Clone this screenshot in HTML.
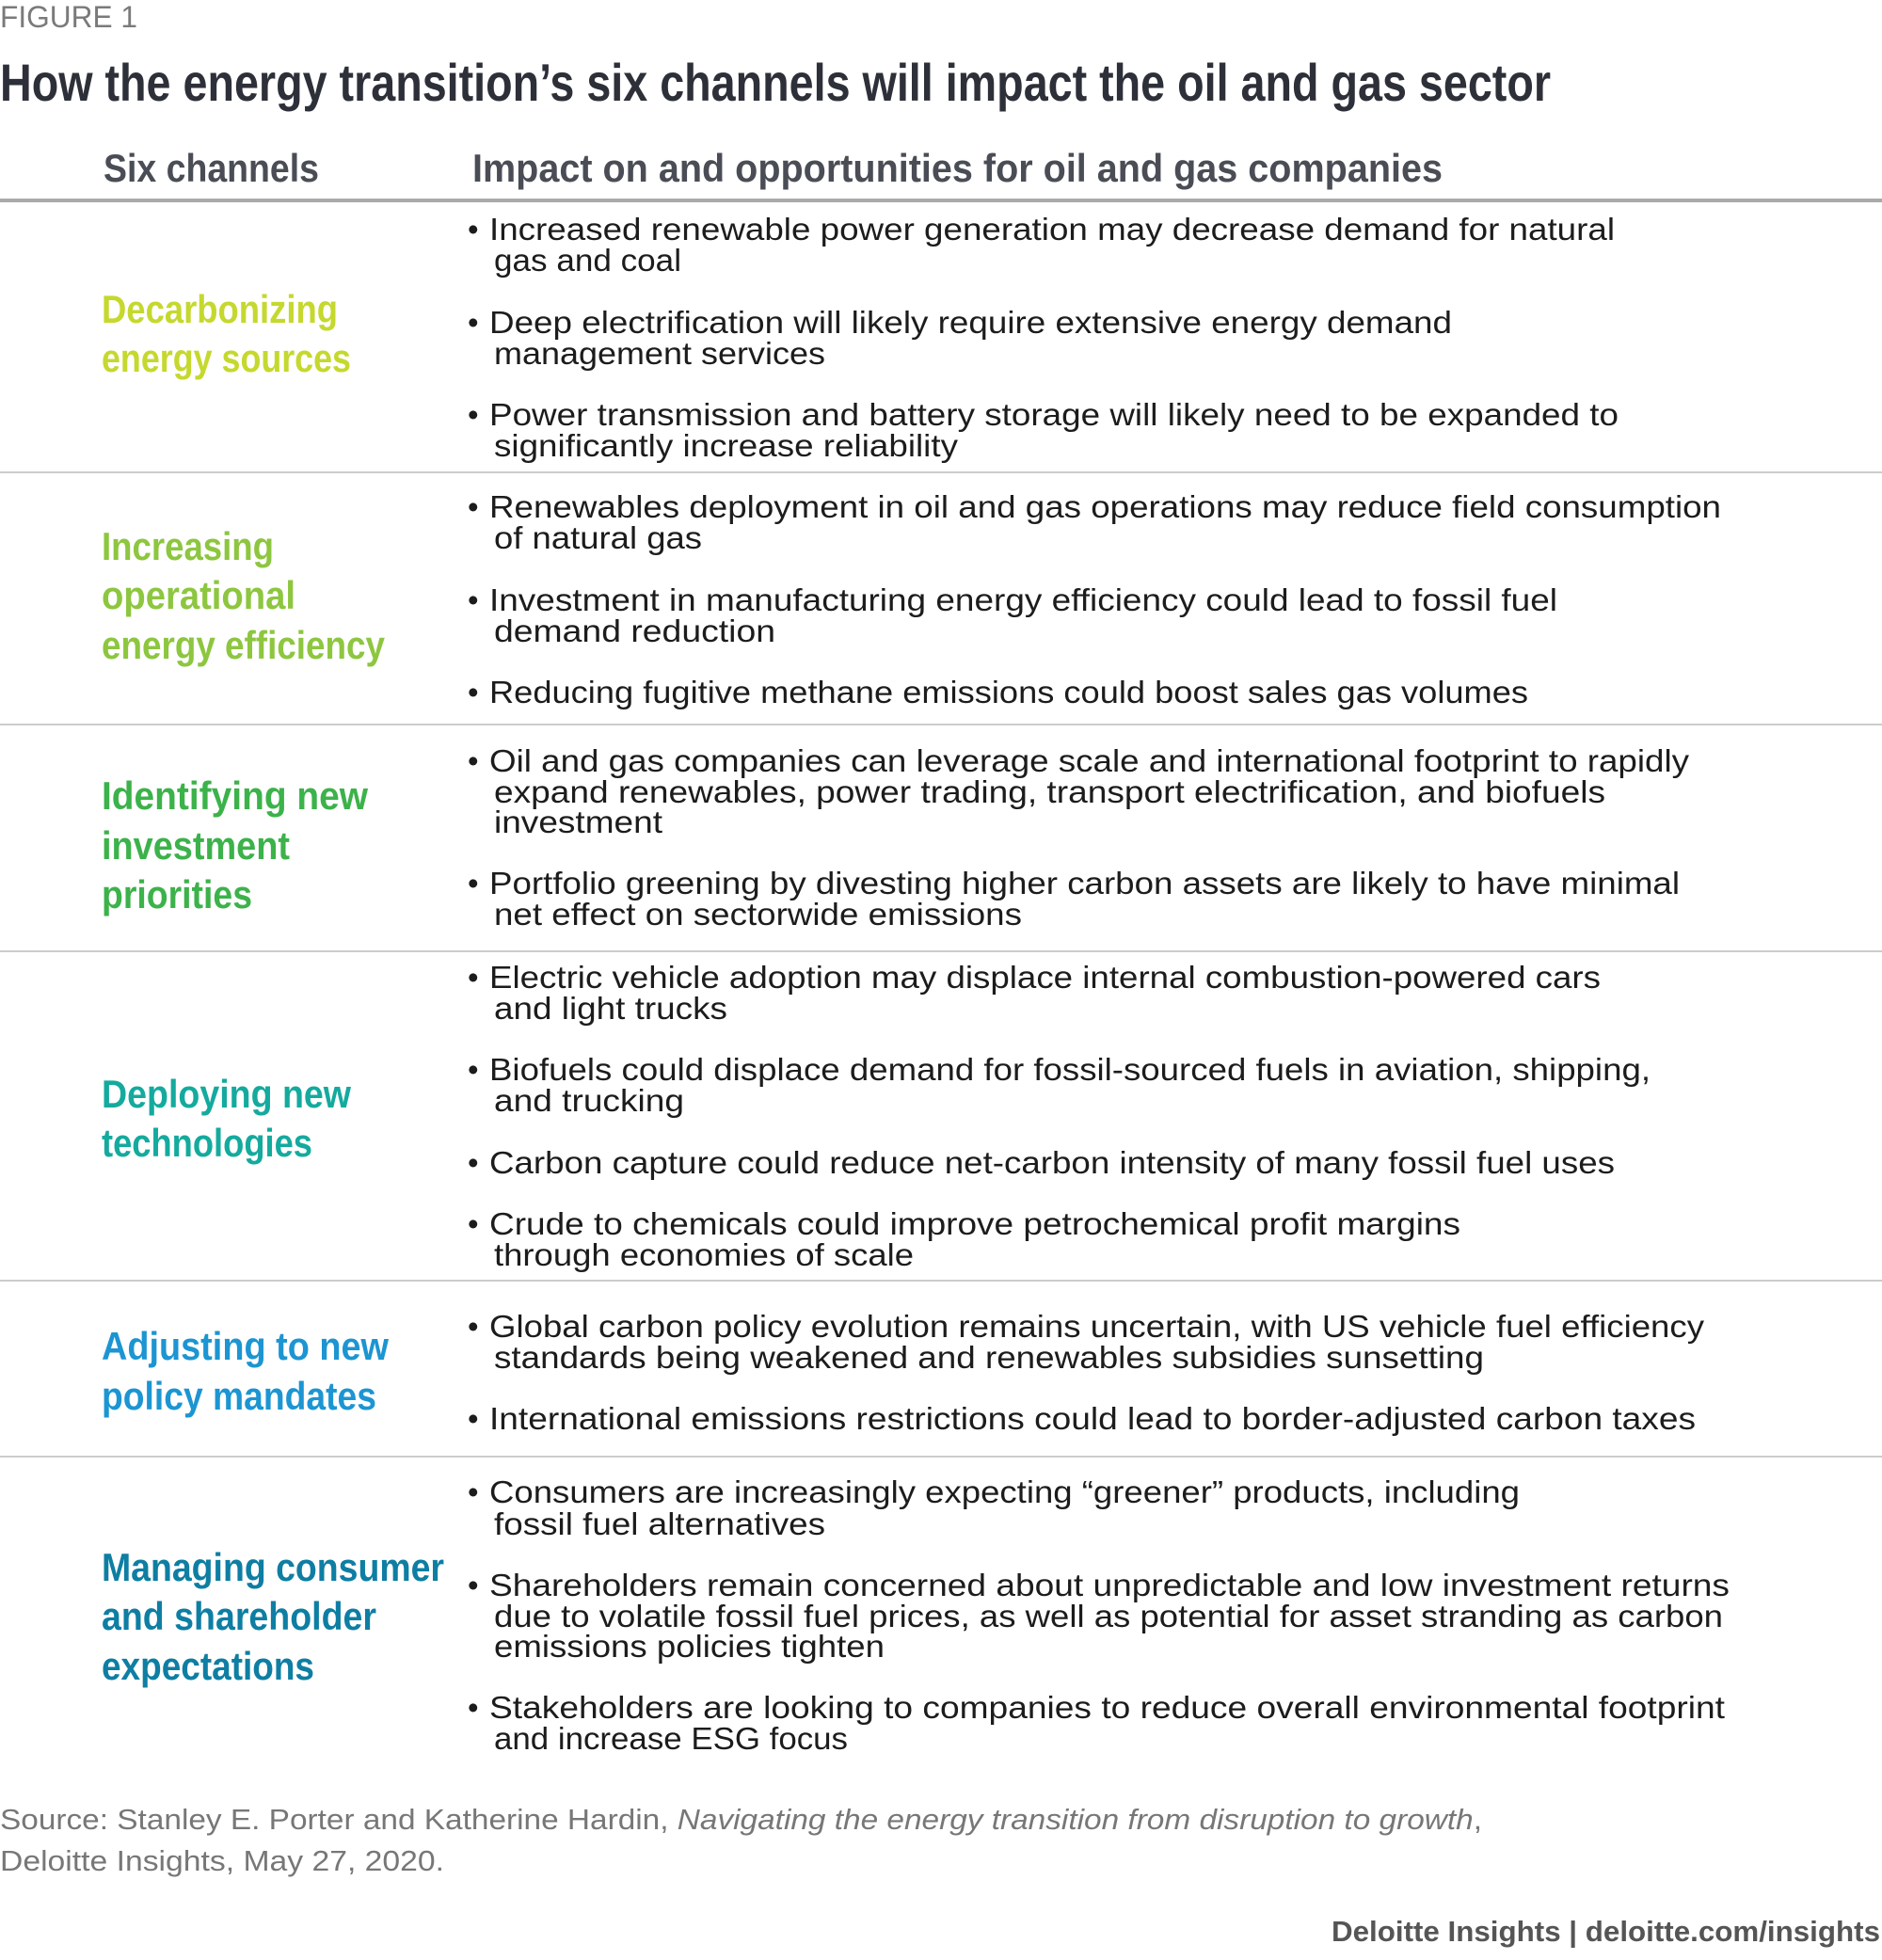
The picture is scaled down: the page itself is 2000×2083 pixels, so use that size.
<!DOCTYPE html>
<html><head><meta charset="utf-8"><style>
html,body{margin:0;padding:0;background:#fff;}
svg{display:block;}
.b{font-family:"Liberation Sans",sans-serif;font-size:33px;fill:#1c1c1c;}
.l{font-family:"Liberation Sans",sans-serif;font-size:42px;font-weight:bold;}
</style></head><body>
<svg width="2000" height="2083" viewBox="0 0 2000 2083" xmlns="http://www.w3.org/2000/svg">
<text x="0" y="29" font-family="Liberation Sans, sans-serif" font-size="32" fill="#7a7a7a" textLength="146" lengthAdjust="spacingAndGlyphs">FIGURE 1</text>
<text x="0" y="107" font-family="Liberation Sans, sans-serif" font-size="56" font-weight="bold" fill="#2e3039" textLength="1648" lengthAdjust="spacingAndGlyphs">How the energy transition’s six channels will impact the oil and gas sector</text>
<text x="110" y="193" font-family="Liberation Sans, sans-serif" font-size="42" font-weight="bold" fill="#4a4d55" textLength="229" lengthAdjust="spacingAndGlyphs">Six channels</text>
<text x="502" y="193" font-family="Liberation Sans, sans-serif" font-size="42" font-weight="bold" fill="#4a4d55" textLength="1031" lengthAdjust="spacingAndGlyphs">Impact on and opportunities for oil and gas companies</text>
<rect x="0" y="211" width="2000" height="4" fill="#aaaaaa"/>
<g fill="#cccccc">
<rect x="0" y="501" width="2000" height="2"/>
<rect x="0" y="769" width="2000" height="2"/>
<rect x="0" y="1010" width="2000" height="2"/>
<rect x="0" y="1360" width="2000" height="2"/>
<rect x="0" y="1547" width="2000" height="2"/>
</g>
<g class="l" lengthAdjust="spacingAndGlyphs">
<text x="108" y="343" fill="#c5d82e" textLength="251" lengthAdjust="spacingAndGlyphs">Decarbonizing</text>
<text x="108" y="395" fill="#c5d82e" textLength="265" lengthAdjust="spacingAndGlyphs">energy sources</text>
<text x="108" y="595" fill="#8dc63f" textLength="183" lengthAdjust="spacingAndGlyphs">Increasing</text>
<text x="108" y="647" fill="#8dc63f" textLength="206" lengthAdjust="spacingAndGlyphs">operational</text>
<text x="108" y="700" fill="#8dc63f" textLength="301" lengthAdjust="spacingAndGlyphs">energy efficiency</text>
<text x="108" y="860" fill="#3cb24a" textLength="283" lengthAdjust="spacingAndGlyphs">Identifying new</text>
<text x="108" y="913" fill="#3cb24a" textLength="200" lengthAdjust="spacingAndGlyphs">investment</text>
<text x="108" y="965" fill="#3cb24a" textLength="160" lengthAdjust="spacingAndGlyphs">priorities</text>
<text x="108" y="1177" fill="#14aa9e" textLength="265" lengthAdjust="spacingAndGlyphs">Deploying new</text>
<text x="108" y="1229" fill="#14aa9e" textLength="224" lengthAdjust="spacingAndGlyphs">technologies</text>
<text x="108" y="1445" fill="#1c95d2" textLength="305" lengthAdjust="spacingAndGlyphs">Adjusting to new</text>
<text x="108" y="1498" fill="#1c95d2" textLength="292" lengthAdjust="spacingAndGlyphs">policy mandates</text>
<text x="108" y="1680" fill="#0e7ea3" textLength="364" lengthAdjust="spacingAndGlyphs">Managing consumer</text>
<text x="108" y="1732" fill="#0e7ea3" textLength="292" lengthAdjust="spacingAndGlyphs">and shareholder</text>
<text x="108" y="1785" fill="#0e7ea3" textLength="226" lengthAdjust="spacingAndGlyphs">expectations</text>
</g>
<g class="b">
<text x="497" y="255">•</text><text x="520" y="255" textLength="1196" lengthAdjust="spacingAndGlyphs">Increased renewable power generation may decrease demand for natural</text>
<text x="525" y="288" textLength="199" lengthAdjust="spacingAndGlyphs">gas and coal</text>
<text x="497" y="354">•</text><text x="520" y="354" textLength="1023" lengthAdjust="spacingAndGlyphs">Deep electrification will likely require extensive energy demand</text>
<text x="525" y="387" textLength="352" lengthAdjust="spacingAndGlyphs">management services</text>
<text x="497" y="452">•</text><text x="520" y="452" textLength="1200" lengthAdjust="spacingAndGlyphs">Power transmission and battery storage will likely need to be expanded to</text>
<text x="525" y="485" textLength="493" lengthAdjust="spacingAndGlyphs">significantly increase reliability</text>

<text x="497" y="550">•</text><text x="520" y="550" textLength="1309" lengthAdjust="spacingAndGlyphs">Renewables deployment in oil and gas operations may reduce field consumption</text>
<text x="525" y="583" textLength="221" lengthAdjust="spacingAndGlyphs">of natural gas</text>
<text x="497" y="649">•</text><text x="520" y="649" textLength="1135" lengthAdjust="spacingAndGlyphs">Investment in manufacturing energy efficiency could lead to fossil fuel</text>
<text x="525" y="682" textLength="299" lengthAdjust="spacingAndGlyphs">demand reduction</text>
<text x="497" y="747">•</text><text x="520" y="747" textLength="1104" lengthAdjust="spacingAndGlyphs">Reducing fugitive methane emissions could boost sales gas volumes</text>

<text x="497" y="820">•</text><text x="520" y="820" textLength="1275" lengthAdjust="spacingAndGlyphs">Oil and gas companies can leverage scale and international footprint to rapidly</text>
<text x="525" y="853" textLength="1181" lengthAdjust="spacingAndGlyphs">expand renewables, power trading, transport electrification, and biofuels</text>
<text x="525" y="885" textLength="179" lengthAdjust="spacingAndGlyphs">investment</text>
<text x="497" y="950">•</text><text x="520" y="950" textLength="1265" lengthAdjust="spacingAndGlyphs">Portfolio greening by divesting higher carbon assets are likely to have minimal</text>
<text x="525" y="983" textLength="561" lengthAdjust="spacingAndGlyphs">net effect on sectorwide emissions</text>

<text x="497" y="1050">•</text><text x="520" y="1050" textLength="1181" lengthAdjust="spacingAndGlyphs">Electric vehicle adoption may displace internal combustion-powered cars</text>
<text x="525" y="1083" textLength="248" lengthAdjust="spacingAndGlyphs">and light trucks</text>
<text x="497" y="1148">•</text><text x="520" y="1148" textLength="1234" lengthAdjust="spacingAndGlyphs">Biofuels could displace demand for fossil-sourced fuels in aviation, shipping,</text>
<text x="525" y="1181" textLength="202" lengthAdjust="spacingAndGlyphs">and trucking</text>
<text x="497" y="1247">•</text><text x="520" y="1247" textLength="1196" lengthAdjust="spacingAndGlyphs">Carbon capture could reduce net-carbon intensity of many fossil fuel uses</text>
<text x="497" y="1312">•</text><text x="520" y="1312" textLength="1032" lengthAdjust="spacingAndGlyphs">Crude to chemicals could improve petrochemical profit margins</text>
<text x="525" y="1345" textLength="446" lengthAdjust="spacingAndGlyphs">through economies of scale</text>

<text x="497" y="1421">•</text><text x="520" y="1421" textLength="1291" lengthAdjust="spacingAndGlyphs">Global carbon policy evolution remains uncertain, with US vehicle fuel efficiency</text>
<text x="525" y="1454" textLength="1052" lengthAdjust="spacingAndGlyphs">standards  being weakened and renewables subsidies sunsetting</text>
<text x="497" y="1519">•</text><text x="520" y="1519" textLength="1282" lengthAdjust="spacingAndGlyphs">International emissions restrictions could lead to border-adjusted carbon taxes</text>

<text x="497" y="1597">•</text><text x="520" y="1597" textLength="1095" lengthAdjust="spacingAndGlyphs">Consumers are increasingly expecting “greener” products, including</text>
<text x="525" y="1631" textLength="352" lengthAdjust="spacingAndGlyphs">fossil fuel alternatives</text>
<text x="497" y="1696">•</text><text x="520" y="1696" textLength="1318" lengthAdjust="spacingAndGlyphs">Shareholders remain concerned about unpredictable and low investment returns</text>
<text x="525" y="1729" textLength="1306" lengthAdjust="spacingAndGlyphs">due to volatile fossil fuel prices, as well as potential for asset stranding as carbon</text>
<text x="525" y="1761" textLength="415" lengthAdjust="spacingAndGlyphs">emissions policies tighten</text>
<text x="497" y="1826">•</text><text x="520" y="1826" textLength="1313" lengthAdjust="spacingAndGlyphs">Stakeholders are looking to companies to reduce overall environmental footprint</text>
<text x="525" y="1859" textLength="376" lengthAdjust="spacingAndGlyphs">and increase ESG focus</text>
</g>
<text x="0" y="1944" font-family="Liberation Sans, sans-serif" font-size="31" fill="#777" textLength="1575" lengthAdjust="spacingAndGlyphs">Source: Stanley E. Porter and Katherine Hardin, <tspan font-style="italic">Navigating the energy transition from disruption to growth</tspan>,</text>
<text x="0" y="1988" font-family="Liberation Sans, sans-serif" font-size="31" fill="#777" textLength="472" lengthAdjust="spacingAndGlyphs">Deloitte Insights, May 27, 2020.</text>
<text x="1415" y="2063" font-family="Liberation Sans, sans-serif" font-size="31" font-weight="bold" fill="#555" textLength="583" lengthAdjust="spacingAndGlyphs">Deloitte Insights | deloitte.com/insights</text>
</svg>
</body></html>
